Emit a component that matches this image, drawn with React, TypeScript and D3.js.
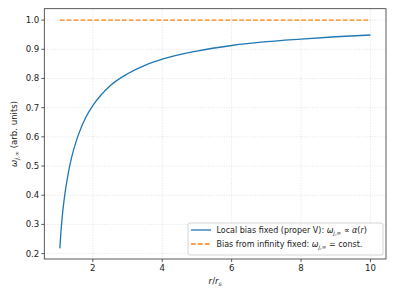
import React from "react";
import * as d3 from "d3";

const rValues = [1.05, 1.08, 1.1, 1.15, 1.2, 1.3, 1.4, 1.5, 1.6, 1.8, 2, 2.25, 2.5, 3, 3.5, 4, 5, 6, 7, 8, 9, 10];
const omegaLocal = [0.218, 0.272, 0.302, 0.361, 0.408, 0.480, 0.535, 0.577, 0.612, 0.667, 0.707, 0.745, 0.775, 0.816, 0.845, 0.866, 0.894, 0.913, 0.926, 0.935, 0.943, 0.949];
const omegaInf = [1.0, 1.0];
const rInf = [1.05, 10];
const xTicks = [2, 4, 6, 8, 10];
const yTicks = [0.2, 0.3, 0.4, 0.5, 0.6, 0.7, 0.8, 0.9, 1.0];

const W = 396, H = 297;
const M = { left: 44.3, right: 386, top: 8.7, bottom: 259 };
const FONT = "DejaVu Sans, sans-serif";

export default function App() {
  const x = d3.scaleLinear().domain([0.6025, 10.4475]).range([M.left, M.right]);
  const y = d3.scaleLinear().domain([0.1815, 1.0391]).range([M.bottom, M.top]);
  const line = d3.line<[number, number]>().x(d => x(d[0])).y(d => y(d[1])).curve(d3.curveMonotoneX);
  const localPts = rValues.map((r, i) => [r, omegaLocal[i]] as [number, number]);
  const infPts = rInf.map((r, i) => [r, omegaInf[i]] as [number, number]);
  const blue = "#1f77b4", orange = "#ff7f0e";
  return (
    <svg width={W} height={H} style={{ position: "absolute", left: 0, top: 0 }} fontFamily={FONT}>
      <rect width={W} height={H} fill="white" />
      {xTicks.map(t => (
        <line key={"gx" + t} x1={x(t)} x2={x(t)} y1={M.top} y2={M.bottom} stroke="#b0b0b0" strokeOpacity={0.5} strokeWidth={0.7} strokeDasharray="1,1.6" />
      ))}
      {yTicks.map(t => (
        <line key={"gy" + t} x1={M.left} x2={M.right} y1={y(t)} y2={y(t)} stroke="#b0b0b0" strokeOpacity={0.5} strokeWidth={0.7} strokeDasharray="1,1.6" />
      ))}
      <path d={line(localPts) || ""} fill="none" stroke={blue} strokeWidth={1.3} />
      <path d={line(infPts) || ""} fill="none" stroke={orange} strokeWidth={1.3} strokeDasharray="4.8,2.1" />
      <rect x={M.left} y={M.top} width={M.right - M.left} height={M.bottom - M.top} fill="none" stroke="#333" strokeWidth={0.8} />
      {xTicks.map(t => (
        <g key={"tx" + t}>
          <line x1={x(t)} x2={x(t)} y1={M.bottom} y2={M.bottom + 3} stroke="#333" strokeWidth={0.8} />
          <text x={x(t)} y={M.bottom + 12} fontSize={8.6} textAnchor="middle" fill="#222">{t}</text>
        </g>
      ))}
      {yTicks.map(t => (
        <g key={"ty" + t}>
          <line x1={M.left - 3} x2={M.left} y1={y(t)} y2={y(t)} stroke="#333" strokeWidth={0.8} />
          <text x={M.left - 5} y={y(t) + 3} fontSize={8.6} textAnchor="end" fill="#222">{t.toFixed(1)}</text>
        </g>
      ))}
      <text x={(M.left + M.right) / 2} y={284} fontSize={8.6} textAnchor="middle" fill="#222">
        <tspan fontStyle="italic">r</tspan>/<tspan fontStyle="italic">r</tspan><tspan fontSize={6} dy={2} fontStyle="italic">s</tspan>
      </text>
      <text transform={`translate(17,${(M.top + M.bottom) / 2}) rotate(-90)`} fontSize={8.6} textAnchor="middle" fill="#222">
        <tspan fontStyle="italic">ω</tspan><tspan fontSize={6} dy={2} fontStyle="italic">j</tspan><tspan fontSize={6}>,∞</tspan><tspan dy={-2}> (arb. units)</tspan>
      </text>
      <g>
        <rect x={188} y={223} width={195} height={32} rx={2} fill="white" fillOpacity={0.8} stroke="#ccc" strokeWidth={0.8} />
        <line x1={191} x2={211} y1={230} y2={230} stroke={blue} strokeWidth={1.3} />
        <line x1={191} x2={211} y1={244} y2={244} stroke={orange} strokeWidth={1.3} strokeDasharray="4.8,2.1" />
        <text x={216.5} y={233} fontSize={8} fill="#222">
          Local bias fixed (proper V): <tspan fontStyle="italic">ω</tspan><tspan fontSize={5.5} dy={1.8} fontStyle="italic">j</tspan><tspan fontSize={5.5}>,∞</tspan><tspan dy={-1.8}> ∝ </tspan><tspan fontStyle="italic">α</tspan>(<tspan fontStyle="italic">r</tspan>)
        </text>
        <text x={216.5} y={247} fontSize={8} fill="#222">
          Bias from infinity fixed: <tspan fontStyle="italic">ω</tspan><tspan fontSize={5.5} dy={1.8} fontStyle="italic">j</tspan><tspan fontSize={5.5}>,∞</tspan><tspan dy={-1.8}> = const.</tspan>
        </text>
      </g>
    </svg>
  );
}
